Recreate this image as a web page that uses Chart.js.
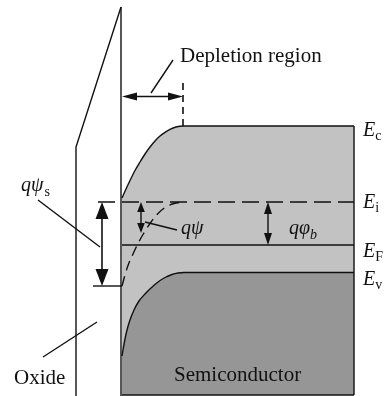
<!DOCTYPE html>
<html>
<head>
<meta charset="utf-8">
<script src="https://cdn.jsdelivr.net/npm/chart.js@4"></script>
<style>
  html, body { margin: 0; padding: 0; background: #ffffff; }
  #wrap { width: 385px; height: 396px; }
</style>
</head>
<body>
<div id="wrap"><canvas id="band" width="385" height="396"></canvas></div>
<script>
// Band diagram of a MOS structure (p-type substrate, depletion at the surface).
// Horizontal axis: position (oxide on the left, semiconductor bulk on the right).
// Vertical axis: electron energy, larger values lower on the page.

// Conduction band edge Ec: bends near the surface, flat in the bulk
const ecX = [122, 126, 130, 135, 140, 145, 150, 155, 160, 165, 170, 176, 183, 354];
const ecY = [198, 189, 180.5, 170.5, 162, 154, 147, 141, 136, 132.3, 129.3, 127, 126, 126];

// Valence band edge Ev
const evX = [122, 123, 125, 127, 130, 134, 139, 145, 151, 158, 165, 172, 178, 184, 354];
const evY = [356, 350, 339, 330, 320, 310, 301, 294, 288, 282, 277.5, 274.5, 273, 272.5, 272.5];

// Intrinsic level Ei following the band bending
const eiBendX = [122, 125, 128, 133, 138, 143, 150, 157, 165, 174, 183];
const eiBendY = [286, 275, 265.5, 254, 243.5, 234.5, 223.5, 214.5, 207.5, 203.5, 202];

// Flat levels in the bulk
const eiLevelX = [98, 354];
const eiLevelY = [202, 202];
const efLevelX = [122, 354];
const efLevelY = [245, 245];

// Oxide layer outline and semiconductor box edges
const oxideOuterX = [121, 76, 76];
const oxideOuterY = [7, 147, 396];
const interfaceX = [121, 121];
const interfaceY = [7, 396];
const boxRightX = [354, 354];
const boxRightY = [126, 395];
const boxBottomX = [122, 354];
const boxBottomY = [395, 395];

// Edge of the depletion region and the surface-potential reference tick
const depEdgeX = [183, 183];
const depEdgeY = [83, 126];
const surfTickX = [93, 122];
const surfTickY = [286, 286];

// Leader lines from labels
const leaderDepX = [151, 173];  const leaderDepY = [93, 60];
const leaderPsiSX = [38, 100];  const leaderPsiSY = [200, 247];
const leaderPsiX = [145, 177];  const leaderPsiY = [222, 230];
const leaderOxX = [43, 97];     const leaderOxY = [357, 322];

// Double-headed arrows: [x1, y1, x2, y2]
const arrowDepletion = [122, 96.5, 183, 96.5];
const arrowPsiS = [102, 202, 102, 286];
const arrowPsi = [141, 202, 141, 233];
const arrowPhiB = [268, 202, 268, 245];

// Level labels (main letter, subscript) and their baselines
const levelNames = ['E', 'E', 'E', 'E'];
const levelSubs = ['c', 'i', 'F', 'v'];
const levelLabelY = [136, 208, 257, 285];

const INK = '#111111';
const LIGHT = '#c2c2c2';
const DARK = '#969696';
const SERIF = '"Liberation Serif", "Times New Roman", serif';

const pts = (xs, ys) => xs.map((x, i) => ({ x: x, y: ys[i] }));

function lineSet(xs, ys, extra) {
  return Object.assign({
    data: pts(xs, ys),
    showLine: true,
    borderColor: INK,
    borderWidth: 1.4,
    pointRadius: 0,
    tension: 0,
    fill: false,
    order: 1
  }, extra || {});
}

// Arrows, labels and subscripts, all placed through the chart scales
const annotate = {
  id: 'annotate',
  afterDatasetsDraw(chart) {
    const ctx = chart.ctx;
    const sx = chart.scales.x, sy = chart.scales.y;
    const px = v => sx.getPixelForValue(v);
    const py = v => sy.getPixelForValue(v);

    function head(x, y, ang, len, half) {
      ctx.beginPath();
      ctx.moveTo(x, y);
      ctx.lineTo(x - len * Math.cos(ang) + half * Math.sin(ang),
                 y - len * Math.sin(ang) - half * Math.cos(ang));
      ctx.lineTo(x - len * Math.cos(ang) - half * Math.sin(ang),
                 y - len * Math.sin(ang) + half * Math.cos(ang));
      ctx.closePath();
      ctx.fill();
    }
    function dblArrow(a, len, half, lw) {
      const x1 = px(a[0]), y1 = py(a[1]), x2 = px(a[2]), y2 = py(a[3]);
      const ang = Math.atan2(y2 - y1, x2 - x1);
      ctx.save();
      ctx.strokeStyle = INK;
      ctx.fillStyle = INK;
      ctx.lineWidth = lw;
      ctx.beginPath();
      ctx.moveTo(x1 + Math.cos(ang) * len * 0.8, y1 + Math.sin(ang) * len * 0.8);
      ctx.lineTo(x2 - Math.cos(ang) * len * 0.8, y2 - Math.sin(ang) * len * 0.8);
      ctx.stroke();
      head(x2, y2, ang, len, half);
      head(x1, y1, ang + Math.PI, len, half);
      ctx.restore();
    }

    dblArrow(arrowDepletion, 15, 4, 1.4);
    dblArrow(arrowPsiS, 17, 6.5, 1.6);
    dblArrow(arrowPsi, 10, 3.8, 1.4);
    dblArrow(arrowPhiB, 12, 4, 1.4);

    ctx.save();
    ctx.fillStyle = INK;
    ctx.textBaseline = 'alphabetic';
    ctx.textAlign = 'left';

    function txt(s, x, y, font) {
      ctx.font = font;
      ctx.fillText(s, x, y);
      return ctx.measureText(s).width;
    }
    const main = '21px ' + SERIF;
    const ital = 'italic 20px ' + SERIF;
    const sub = '14px ' + SERIF;
    const subI = 'italic 14px ' + SERIF;

    txt('Depletion region', px(180), py(62), main);
    txt('Oxide', px(14), py(384), main);
    txt('Semiconductor', px(174), py(381), main);

    // q psi_s
    let w = txt('q\u03C8', px(21), py(191), ital);
    txt('s', px(21) + w + 1, py(196), sub);
    // q psi
    txt('q\u03C8', px(181), py(234), ital);
    // q phi_b
    w = txt('q\u03C6', px(289), py(234), ital);
    txt('b', px(289) + w, py(239), subI);

    // Band edge and level names at the right margin
    levelNames.forEach((n, i) => {
      const base = py(levelLabelY[i]);
      const wE = txt(n, px(363), base, ital);
      txt(levelSubs[i], px(363) + wE, base + 4, sub);
    });
    ctx.restore();
  }
};

new Chart(document.getElementById('band'), {
  type: 'scatter',
  data: {
    datasets: [
      // filled bands: light between Ec and Ev, dark below Ev
      lineSet(ecX, ecY, {
        cubicInterpolationMode: 'monotone',
        fill: { value: 395 },
        backgroundColor: LIGHT,
        order: 3
      }),
      lineSet(evX, evY, {
        cubicInterpolationMode: 'monotone',
        fill: { value: 395 },
        backgroundColor: DARK,
        order: 2
      }),
      lineSet(eiBendX, eiBendY, { cubicInterpolationMode: 'monotone', borderDash: [10, 6] }),
      lineSet(eiLevelX, eiLevelY, { borderDash: [17, 7] }),
      lineSet(efLevelX, efLevelY),
      lineSet(oxideOuterX, oxideOuterY),
      lineSet(interfaceX, interfaceY),
      lineSet(boxRightX, boxRightY),
      lineSet(boxBottomX, boxBottomY),
      lineSet(depEdgeX, depEdgeY, { borderDash: [7, 5], borderWidth: 1.6 }),
      lineSet(surfTickX, surfTickY),
      lineSet(leaderDepX, leaderDepY),
      lineSet(leaderPsiSX, leaderPsiSY),
      lineSet(leaderPsiX, leaderPsiY),
      lineSet(leaderOxX, leaderOxY)
    ]
  },
  options: {
    responsive: false,
    animation: false,
    layout: { padding: 0 },
    clip: false,
    scales: {
      x: { type: 'linear', min: 0, max: 385, display: false },
      y: { type: 'linear', min: 0, max: 396, reverse: true, display: false }
    },
    plugins: {
      legend: { display: false },
      tooltip: { enabled: false },
      filler: { propagate: false }
    },
    elements: { point: { radius: 0, hoverRadius: 0 } }
  },
  plugins: [annotate]
});
</script>
</body>
</html>
